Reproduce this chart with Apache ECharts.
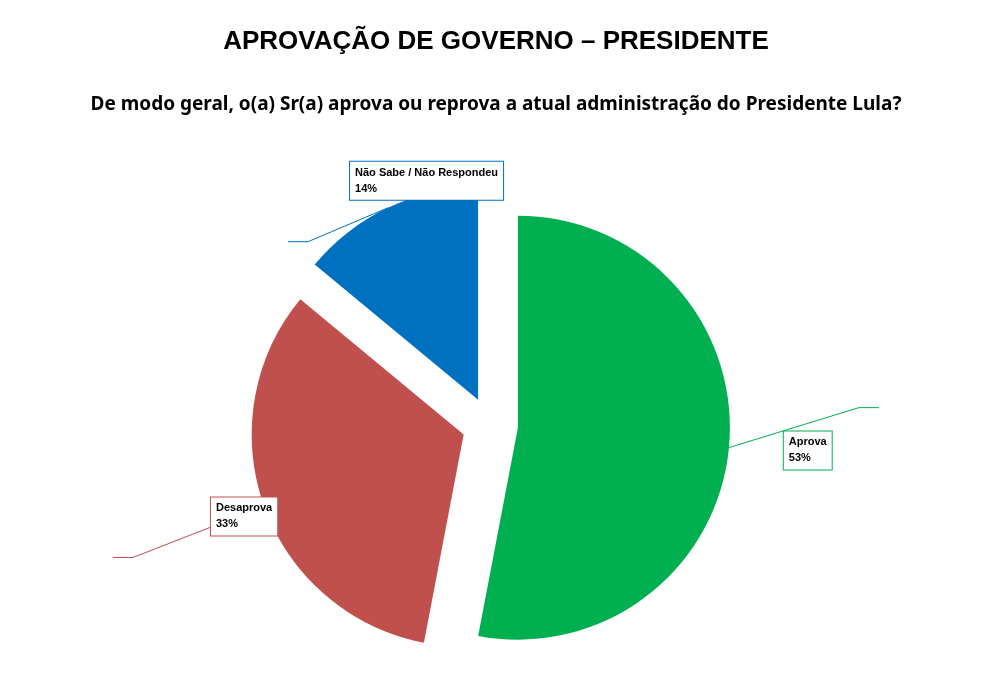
<!DOCTYPE html>
<html>
<head>
<meta charset="utf-8">
<script src="https://cdn.jsdelivr.net/npm/echarts@6/dist/echarts.min.js"></script>
<style>html,body{margin:0;background:#fff}#main{width:992px;height:700px}</style>
</head>
<body>
<div id="main"></div>
<script>
// dados
var categorias = ["Aprova", "Desaprova", "Não Sabe / Não Respondeu"];
var valores = [53, 33, 14];
var cores = ["#00b050", "#c0504d", "#0070c0"];
// posição das caixas de rótulo (canto esquerdo, meio)
var posRotulos = [[852, 405], [72, 548], [146, 267]];

var myChart = echarts.init(document.getElementById('main'));
var option = {
    backgroundColor: "#fff",
    title: [{
        text: "APROVAÇÃO DE GOVERNO – PRESIDENTE",
        left: "center", top: 24,
        textStyle: { fontFamily: "Liberation Sans", fontSize: 26, fontWeight: "bold", color: "#000" }
    }, {
        text: "De modo geral, o(a) Sr(a) aprova ou reprova a atual administração do Presidente Lula?",
        left: "center", top: 90,
        textStyle: { fontFamily: "Noto Sans", fontSize: 19, fontWeight: "bold", color: "#000" }
    }],
    series: [{
        type: "pie",
        center: [490, 425],
        radius: 212,
        startAngle: 90,
        clockwise: true,
        selectedMode: "multiple",
        selectedOffset: 28,
        animation: false,
        data: categorias.map(function (c, i) {
            return {
                name: c, value: valores[i], selected: true,
                itemStyle: { color: cores[i] },
                label: { borderColor: cores[i] },
                labelLine: { lineStyle: { color: cores[i] } }
            };
        }),
        label: {
            show: true,
            formatter: "{b}\n{d}%",
            fontFamily: "Liberation Sans",
            fontSize: 11,
            fontWeight: "bold",
            color: "#000",
            lineHeight: 16,
            backgroundColor: "#fff",
            borderWidth: 1,
            padding: [3, 5]
        },
        labelLine: { show: true, length: 30, length2: 20 },
        labelLayout: function (p) {
            var pos = posRotulos[p.dataIndex];
            return { x: pos[0], y: pos[1], align: "left", verticalAlign: "middle" };
        },
        emphasis: { disabled: true }
    }]
};
myChart.setOption(option);
</script>
</body>
</html>
